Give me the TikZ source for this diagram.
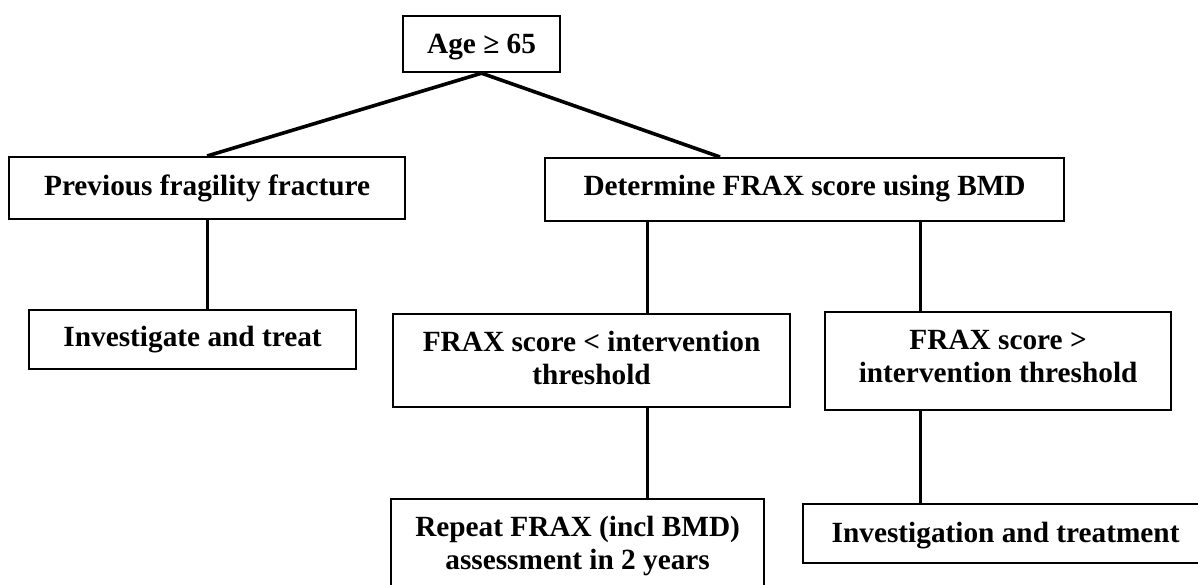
\documentclass[tikz,border=0pt]{standalone}
\usepackage{fontspec}
\setmainfont{Liberation Serif}
\begin{document}
\begin{tikzpicture}[x=1pt,y=-1pt,
  box/.style={draw, line width=2.2pt, inner xsep=0pt, inner ysep=0pt, anchor=north west, align=center,
    font=\fontsize{29.3}{33}\selectfont\bfseries},
  link/.style={line width=3pt},
  diag/.style={line width=3.6pt}]
\path[use as bounding box] (0,0) rectangle (1198,584);
\clip (0,0) rectangle (1198,584);
\node[box, minimum width=157pt, text height=37pt, text depth=19pt] (age) at (402,15) {Age ≥ 65};
\node[box, minimum width=396pt, text height=38pt, text depth=24pt] (prev) at (8,156) {Previous fragility fracture};
\node[box, minimum width=519pt, text height=37pt, text depth=26pt] (det) at (544,157) {Determine FRAX score using BMD};
\node[box, minimum width=327pt, text height=36pt, text depth=23pt] (inv) at (28,309) {Investigate and treat};
\node[box, minimum width=397pt, text height=70pt, text depth=23pt] (lt) at (392,313) {FRAX score < intervention\\threshold};
\node[box, minimum width=346pt, text height=70pt, text depth=28pt] (gt) at (824,311) {FRAX score >\\intervention threshold};
\node[box, minimum width=373pt, text height=70pt, text depth=23pt] (rep) at (390,498) {Repeat FRAX (incl BMD)\\assessment in 2 years};
\node[box, minimum width=405pt, text height=38pt, text depth=21pt] (inv2) at (802,503) {Investigation and treatment};
\coordinate (cl) at (647,0);
\coordinate (cr) at (920,0);
\draw[diag] (age.south) -- (prev.north);
\draw[diag] (age.south) -- ([xshift=176pt]det.north west);
\draw[link] (prev.south) -- (prev.south |- inv.north);
\draw[link] (det.south -| cl) -- (lt.north -| cl);
\draw[link] (det.south -| cr) -- (gt.north -| cr);
\draw[link] (lt.south -| cl) -- (rep.north -| cl);
\draw[link] (gt.south -| cr) -- (inv2.north -| cr);
\end{tikzpicture}
\end{document}
